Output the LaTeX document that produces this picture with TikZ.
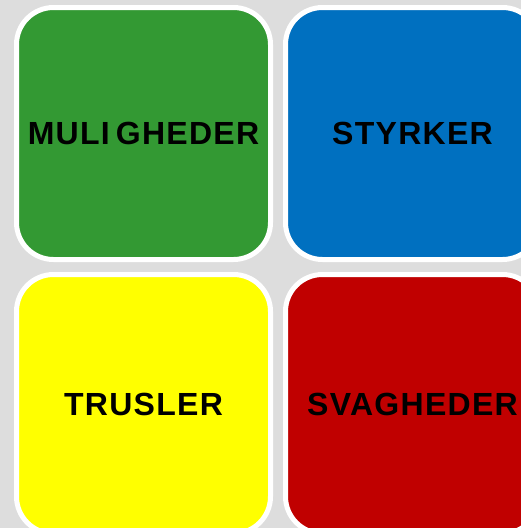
\documentclass[tikz,border=0pt]{standalone}
\usepackage{fontspec}
\setmainfont{Liberation Sans}
\usepackage{xcolor}
\usetikzlibrary{positioning}

\definecolor{bggray}{HTML}{DDDDDD}
\definecolor{swotgreen}{HTML}{339933}
\definecolor{swotblue}{HTML}{0070C0}
\definecolor{swotyellow}{HTML}{FFFF00}
\definecolor{swotred}{HTML}{C00000}

\begin{document}
\begin{tikzpicture}[
    x=1pt, y=-1pt,
    node distance=10pt,
    cell/.style={rectangle, draw=white, line width=5pt, rounded corners=37pt,
        minimum width=254pt, minimum height=252pt, align=center,
        font=\fontsize{32}{32}\selectfont\bfseries\addfontfeature{LetterSpace=4}},
    lowcell/.style={cell, minimum height=259pt}
]
\fill[bggray] (0,0) rectangle (521,528);
\useasboundingbox (0,0) rectangle (521,528);

\node[cell, fill=swotgreen] (muligheder) at (143.5,133.5) {MULI\kern6pt GHEDER};
\node[cell, fill=swotblue, right=of muligheder] (styrker) {STYRKER};
\node[lowcell, fill=swotyellow, below=of muligheder] (trusler) {TRUSLER};
\node[lowcell, fill=swotred, below=of styrker] (svagheder) {SVAGHEDER};
\end{tikzpicture}
\end{document}
